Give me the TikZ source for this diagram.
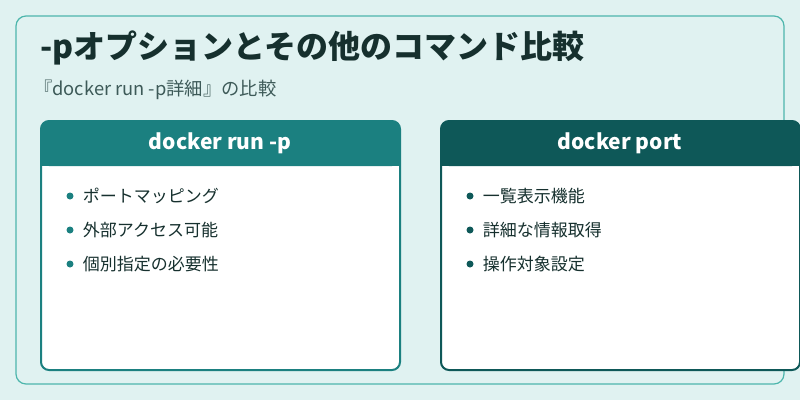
\documentclass[tikz,border=0pt]{standalone}
\usepackage{fontspec}
\setmainfont{Noto Sans CJK JP}
\usetikzlibrary{positioning}
\definecolor{bgteal}{HTML}{E0F2F1}
\definecolor{frameteal}{HTML}{4DB6AC}
\definecolor{headA}{HTML}{1B8080}
\definecolor{headB}{HTML}{0E5858}
\definecolor{inktext}{HTML}{16302E}
\definecolor{subtext}{HTML}{3D5A58}
\tikzset{
  card/.style={draw=#1, line width=2pt, fill=white, rounded corners=8pt},
  head/.style={fill=#1, rounded corners=8pt},
  headtext/.style={text=white, font=\fontsize{21}{24}\selectfont\bfseries},
  item/.style={anchor=west, text=inktext, font=\fontsize{17}{20}\selectfont, inner sep=0pt},
  dot/.style={circle, fill=#1, inner sep=0pt, minimum size=7pt}
}
\begin{document}
\begin{tikzpicture}[x=1pt,y=-1pt]
  \useasboundingbox (0,0) rectangle (800,400);
  \fill[bgteal] (0,0) rectangle (800,400);
  \draw[frameteal, line width=1.2pt, rounded corners=10pt, fill=bgteal] (16,16) rectangle (784,384);
  \node[anchor=west, text=inktext, font=\fontsize{32}{36}\selectfont\bfseries, inner sep=0pt] (title) at (40,48) {-pオプションとその他のコマンド比較};
  \node[anchor=west, text=subtext, font=\fontsize{18.3}{21}\selectfont, inner sep=0pt] (subtitle) at (34,90) {『docker run -p詳細』の比較};
  % left card
  \draw[card=headA] (41,121) rectangle (400,370);
  \fill[head=headA] (41,121) rectangle (400,166);
  \fill[headA] (41,150) rectangle (400,166);
  \node[headtext] (runhead) at (220,143) {docker run -p};
  \foreach \t [count=\i] in {ポートマッピング,外部アクセス可能,個別指定の必要性}{
    \node[dot=headA] (ldot\i) at (70,196+34*\i-34) {};
    \node[item, right=9pt of ldot\i] (litem\i) {\t};
  }
  % right card
  \draw[card=headB] (441,121) rectangle (800,370);
  \fill[head=headB] (441,121) rectangle (800,166);
  \fill[headB] (441,150) rectangle (800,166);
  \node[headtext] (porthead) at (620,143) {docker port};
  \foreach \t [count=\i] in {一覧表示機能,詳細な情報取得,操作対象設定}{
    \node[dot=headB] (rdot\i) at (470,196+34*\i-34) {};
    \node[item, right=9pt of rdot\i] (ritem\i) {\t};
  }
\end{tikzpicture}
\end{document}
